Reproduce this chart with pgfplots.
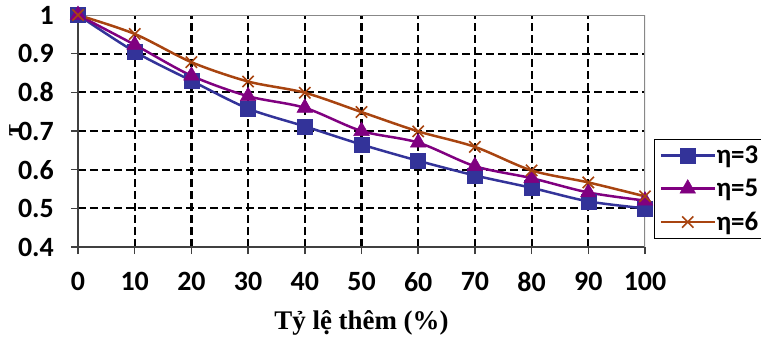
\documentclass[border=0pt]{standalone}
\usepackage{pgfplots}
\pgfplotsset{compat=1.18}
\usepackage{fontspec}
\setmainfont{Carlito}
\newfontfamily\timesfont{Liberation Serif}
\definecolor{cBlue}{HTML}{333399}
\definecolor{cPurple}{HTML}{800080}
\definecolor{cBrown}{HTML}{A84410}
\definecolor{cAxis}{HTML}{404040}
\definecolor{cBorder}{HTML}{888888}
\begin{document}
\begin{tikzpicture}
\useasboundingbox (-78bp,-90bp) rectangle (683bp,247bp);
\begin{axis}[
  scale only axis,
  width=567bp, height=232bp,
  xmin=0, xmax=100, ymin=0.4, ymax=1,
  axis x line*=bottom, axis y line*=left,
  axis line style={-, cAxis, line width=2bp},
  xtick={0,10,20,30,40,50,60,70,80,90,100},
  ytick={0.4,0.5,0.6,0.7,0.8,0.9,1},
  minor xtick={10,20,30,40,50,60,70,80,90},
  minor ytick={0.5,0.6,0.7,0.8,0.9},
  grid=minor,
  minor grid style={black, line width=2.2bp, dash pattern=on 8bp off 4bp},
  minor tick length=0pt,
  tick align=outside,
  major tick length=7bp,
  major tick style={cAxis, line width=1.5bp},
  /pgf/number format/assume math mode=true,
  yticklabel style={/pgf/number format/fixed, /pgf/number format/precision=1},
  tick label style={font=\fontsize{28}{32}\selectfont\bfseries, inner sep=0pt},
  xticklabel style={anchor=north, yshift=-18bp},
  yticklabel style={anchor=east, xshift=-17bp},
  xlabel={Tỷ lệ thêm (\%)},
  xlabel style={font=\timesfont\fontsize{27}{32}\selectfont\bfseries, at={(axis description cs:0.5,0)}, anchor=center, yshift=-76bp},
  ylabel={τ},
  ylabel style={font=\timesfont\fontsize{26}{30}\selectfont\bfseries, at={(axis description cs:0,0.5)}, anchor=center, yshift=62bp},
  legend image code/.code={\draw[mark repeat=2,mark phase=2,#1] plot coordinates {(0bp,0bp)(27bp,0bp)(54bp,0bp)};},
  legend cell align=left,
  legend style={at={(axis description cs:1,0)}, anchor=south west, xshift=9bp, yshift=8bp,
    draw=black, line width=1bp, inner xsep=5bp, inner ysep=6bp, row sep=13bp,
    font=\fontsize{27}{30}\selectfont\bfseries, nodes={inner sep=0.5bp}},
]
\draw[cBorder, line width=2.6bp] (rel axis cs:0,1) -- (rel axis cs:1,1) -- (rel axis cs:1,0);
\addplot[cBlue, line width=2.5bp, smooth, tension=0.5, mark=square*, mark size=7.5bp, mark options={solid, fill=cBlue, line width=0.5bp}]
  coordinates {(0,1)(10,0.905)(20,0.83)(30,0.758)(40,0.712)(50,0.665)(60,0.623)(70,0.585)(80,0.553)(90,0.518)(100,0.5)};
\addlegendentry{η=3}
\addplot[cPurple, line width=2.5bp, smooth, tension=0.5, mark=triangle*, mark size=9bp, mark options={solid, fill=cPurple, line width=0.5bp}]
  coordinates {(0,1)(10,0.923)(20,0.843)(30,0.79)(40,0.76)(50,0.70)(60,0.67)(70,0.609)(80,0.578)(90,0.541)(100,0.52)};
\addlegendentry{η=5}
\addplot[cBrown, line width=2.5bp, smooth, tension=0.5, mark=x, mark size=8bp, mark options={solid, line width=1.6bp}]
  coordinates {(0,1)(10,0.951)(20,0.878)(30,0.828)(40,0.799)(50,0.749)(60,0.699)(70,0.659)(80,0.598)(90,0.567)(100,0.531)};
\addlegendentry{η=6}
\end{axis}
\end{tikzpicture}
\end{document}
